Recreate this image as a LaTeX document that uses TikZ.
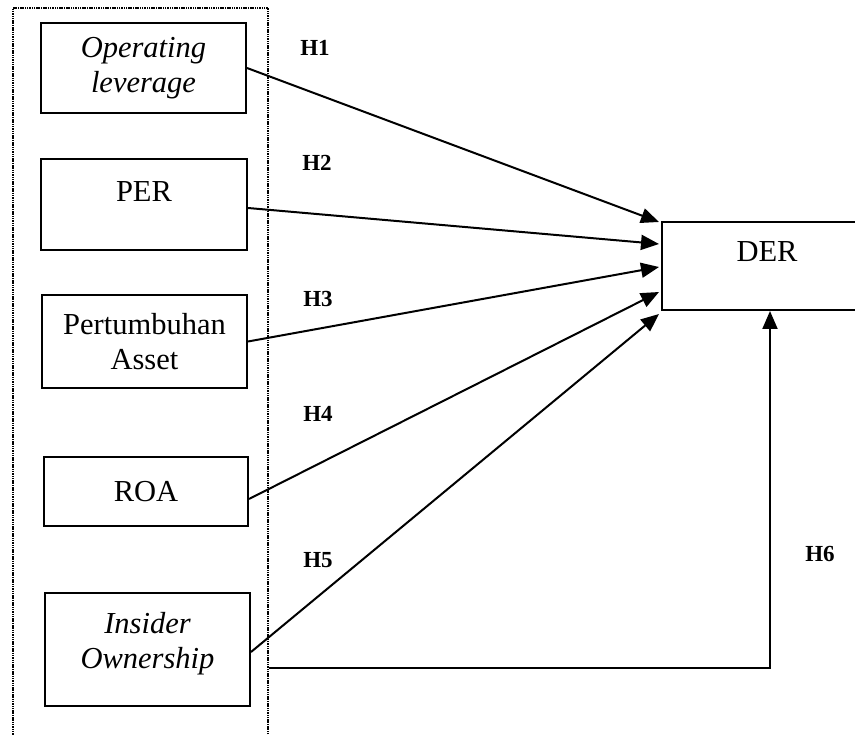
\documentclass[tikz,border=0pt]{standalone}
\usepackage{fontspec}
\setmainfont{Liberation Serif}
\usetikzlibrary{arrows.meta,calc}
\begin{document}
\begin{tikzpicture}[x=1pt,y=-1pt,
  box/.style={draw,line width=2pt,rectangle,inner sep=0pt,align=center,font=\fontsize{30.5}{35}\selectfont},
  arr/.style={line width=2pt,-{Triangle[length=18pt,width=15pt]}},
  hl/.style={font=\fontsize{23}{25}\selectfont\bfseries,inner sep=0pt}]
\useasboundingbox (0,0) rectangle (855,735);
\clip (0,0) rectangle (855,735);
\node[draw,dash pattern=on 1.5pt off 0.8pt,line width=1.7pt,minimum width=255,minimum height=752,inner sep=0pt] (outer) at (140.5,384) {};
\node[box,minimum width=205,minimum height=90] (ol) at (143.5,68) {\textit{Operating}\\\textit{leverage}};
\node[box,minimum width=206,minimum height=91,text height=20pt,text depth=25pt] (per) at (144,204.5) {PER};
\node[box,minimum width=205,minimum height=93] (pa) at (144.5,341.5) {Pertumbuhan\\Asset};
\node[box,minimum width=204,minimum height=69] (roa) at (146,491.5) {ROA};
\node[box,minimum width=205,minimum height=113,text depth=18pt] (io) at (147.5,649.5) {\textit{Insider}\\\textit{Ownership}};
\node[box,minimum width=210,minimum height=88,text height=20pt,text depth=29pt] (der) at (767,266) {DER};
\node[hl] (h1) at (315,48) {H1};
\node[hl] (h2) at (317,163) {H2};
\node[hl] (h3) at (318,299) {H3};
\node[hl] (h4) at (318,414) {H4};
\node[hl] (h5) at (318,560) {H5};
\node[hl] (h6) at (820,554) {H6};
\draw[arr] (ol.east) -- ($(der.north west)+(-2,1)$);
\draw[arr] ($(per.east)+(0,3.5)$) -- ($(der.north west)+(-2,23)$);
\draw[arr] (pa.east) -- ($(der.north west)+(-2,46)$);
\draw[arr] ($(roa.east)+(0,7.5)$) -- ($(der.north west)+(-2,71)$);
\draw[arr] ($(io.east)+(0,2.5)$) -- ($(der.south west)+(-2,3)$);
\draw[arr] (outer.east |- 0,668) -| (der.south -| 770,0);
\end{tikzpicture}
\end{document}
